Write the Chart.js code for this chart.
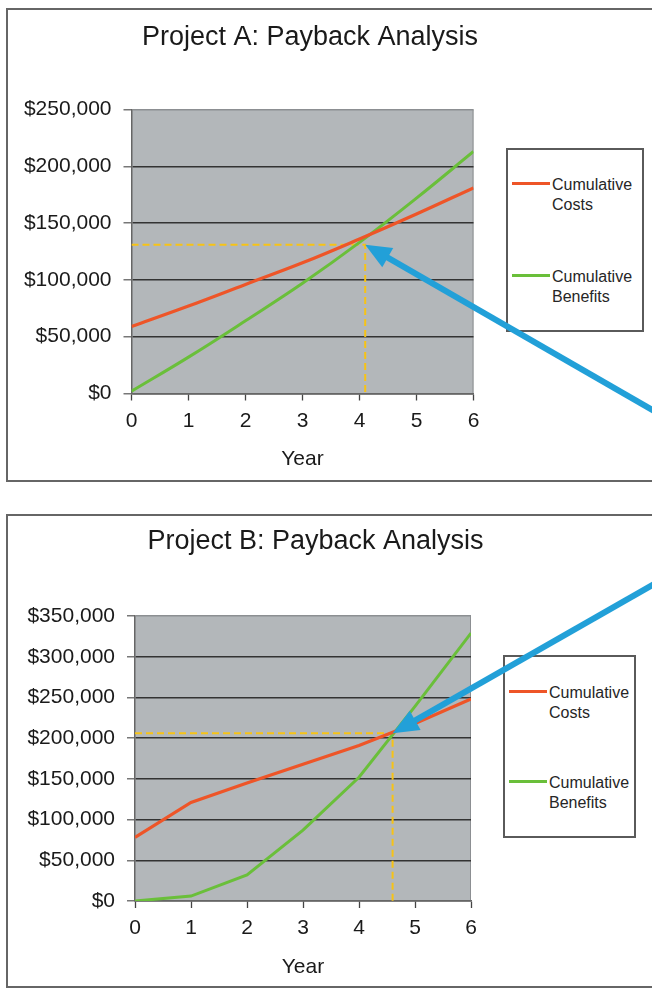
<!DOCTYPE html>
<html>
<head>
<meta charset="utf-8">
<script src="https://cdn.jsdelivr.net/npm/chart.js@4"></script>
<style>
  body { margin: 0; background: #fff; font-family: "Liberation Sans", Arial, sans-serif; overflow: hidden; }
  .frame { position: absolute; left: 6px; width: 700px; border: 2px solid #666; border-right: none; }
  .legend { position: absolute; border: 2px solid #5a5a5a; background: #fff; }
  .item { position: absolute; left: 4px; padding-left: 40px; font-size: 16px; line-height: 19.5px; color: #262626; }
  .swatch { position: absolute; left: 0; top: 6.5px; width: 38px; height: 3px; }
  .panel { position: absolute; left: 0; width: 652px; }
</style>
</head>
<body>
<div class="frame" style="top:8px;height:470px"></div>
<div class="frame" style="top:514px;height:470px"></div>
<div class="legend" id="legendA" style="left:506px;top:148px;width:134px;height:180px"></div>
<div class="legend" id="legendB" style="left:503px;top:655px;width:129px;height:179px"></div>
<div class="panel" style="top:0;height:495px"><canvas id="chartA"></canvas></div>
<div class="panel" style="top:495px;height:494px"><canvas id="chartB"></canvas></div>

<script>
// 数据
var years = [0, 1, 2, 3, 4, 5, 6];
var seriesNames = ["Cumulative Costs", "Cumulative Benefits"];

var titleA = "Project A: Payback Analysis";
var costsA = [59000, 77000, 96000, 115000, 136000, 158000, 181000];
var benefitsA = [2000, 32000, 64000, 97000, 133000, 172000, 213000];
var paybackA = [4.1, 131000];
var yMaxA = 250000;

var titleB = "Project B: Payback Analysis";
var costsB = [78000, 121000, 145000, 168000, 191000, 218000, 248000];
var benefitsB = [0, 6000, 32000, 87000, 152000, 239000, 329000];
var paybackB = [4.6, 206000];
var yMaxB = 350000;

var yStep = 50000;

Chart.defaults.font.family = "'Liberation Sans', Arial, sans-serif";
Chart.defaults.color = "#1a1a1a";

function points(xs, ys) {
    return xs.map(function (x, i) { return {x: x, y: ys[i]}; });
}

// 黄色虚线：回收期的位置
function guide(p) {
    return [{x: 0, y: p[1]}, {x: p[0], y: p[1]}, {x: p[0], y: 0}];
}

// 灰色绘图区背景
var plotBg = {
    id: "plotBg",
    beforeDraw: function (chart) {
        var a = chart.chartArea, ctx = chart.ctx;
        ctx.save();
        ctx.fillStyle = "#b3b7ba";
        ctx.fillRect(a.left, a.top, a.right - a.left, a.bottom - a.top);
        ctx.strokeStyle = "#8c8f92";
        ctx.lineWidth = 1;
        ctx.beginPath();
        ctx.moveTo(a.right - 0.5, a.top);
        ctx.lineTo(a.right - 0.5, a.bottom);
        ctx.stroke();
        ctx.restore();
    }
};

// 蓝色箭头指向交点
var pointerArrow = {
    id: "pointerArrow",
    afterDraw: function (chart, args, opts) {
        var ctx = chart.ctx;
        var tipX = chart.scales.x.getPixelForValue(opts.at[0]);
        var tipY = chart.scales.y.getPixelForValue(opts.at[1]);
        var tx = opts.from[0], ty = opts.from[1];
        var len = Math.hypot(tx - tipX, ty - tipY);
        var ux = (tx - tipX) / len, uy = (ty - tipY) / len;
        var head = 26, half = 11;
        var bx = tipX + ux * head, by = tipY + uy * head;
        ctx.save();
        ctx.strokeStyle = ctx.fillStyle = "#22a0d8";
        ctx.lineWidth = 6;
        ctx.beginPath();
        ctx.moveTo(tx, ty);
        ctx.lineTo(bx - ux * 2, by - uy * 2);
        ctx.stroke();
        ctx.beginPath();
        ctx.moveTo(tipX, tipY);
        ctx.lineTo(bx - uy * half, by + ux * half);
        ctx.lineTo(bx + uy * half, by - ux * half);
        ctx.closePath();
        ctx.fill();
        ctx.restore();
    }
};

function makeChart(id, title, costs, benefits, payback, yMax, geo, tension) {
    var ctx = document.getElementById(id).getContext("2d");
    return new Chart(ctx, {
        type: "line",
        data: {
            datasets: [{
                label: seriesNames[0],
                data: points(years, costs),
                borderColor: "#ee5528",
                backgroundColor: "#ee5528",
                borderWidth: 3.2,
                pointRadius: 0,
                tension: tension,
                fill: false
            }, {
                label: seriesNames[1],
                data: points(years, benefits),
                borderColor: "#6abf3a",
                backgroundColor: "#6abf3a",
                borderWidth: 3,
                pointRadius: 0,
                tension: tension,
                fill: false
            }, {
                label: "",
                guide: true,
                data: guide(payback),
                borderColor: "#f7c316",
                borderWidth: 2,
                borderDash: [7, 4],
                pointRadius: 0,
                tension: 0,
                fill: false
            }]
        },
        options: {
            responsive: true,
            maintainAspectRatio: false,
            animation: false,
            layout: {padding: {left: 0, top: 0, bottom: 0, right: geo.padRight}},
            plugins: {
                legend: {display: false},
                tooltip: {enabled: false},
                title: {
                    display: true,
                    text: title,
                    color: "#1a1a1a",
                    font: {size: 27, weight: "normal", lineHeight: 1.2},
                    padding: {top: geo.titleTop, bottom: geo.titleBottom}
                },
                pointerArrow: {at: payback, from: geo.arrowFrom}
            },
            scales: {
                x: {
                    type: "linear",
                    min: 0,
                    max: 6,
                    ticks: {stepSize: 1, padding: geo.xTickPad, font: {size: 21}, color: "#1a1a1a"},
                    grid: {drawOnChartArea: false, tickLength: 7, tickColor: "#444", tickWidth: 1.3},
                    border: {color: "#666", width: 1.5},
                    title: {display: true, text: "Year", font: {size: 21}, color: "#1a1a1a",
                        padding: {top: 0, bottom: geo.yearPad}},
                    afterFit: function (s) { s.height = geo.xHeight; }
                },
                y: {
                    min: 0,
                    max: yMax,
                    ticks: {
                        stepSize: yStep,
                        padding: 12,
                        font: {size: 21},
                        color: "#1a1a1a",
                        callback: function (v) { return "$" + v.toLocaleString("en-US"); }
                    },
                    grid: {
                        tickLength: 8,
                        tickColor: "#777",
                        lineWidth: 1.5,
                        color: function (c) { return c.tick && c.tick.value === yMax ? "#8c8f92" : "#333"; }
                    },
                    border: {color: "#666", width: 1.5},
                    afterFit: function (s) { s.width = geo.yWidth; }
                },
                pad: {
                    type: "linear",
                    position: "right",
                    display: true,
                    ticks: {display: false},
                    grid: {display: false, drawTicks: false},
                    border: {display: false},
                    afterFit: function (s) { s.width = geo.rightWidth; }
                }
            }
        },
        plugins: [plotBg, pointerArrow]
    });
}

// 图例（放在画布下面，箭头会盖在上面）
function fillLegend(chart, el, tops) {
    chart.data.datasets.filter(function (d) { return !d.guide; }).forEach(function (d, i) {
        var item = document.createElement("div");
        item.className = "item";
        item.style.top = tops[i] + "px";
        item.innerHTML = '<span class="swatch" style="background:' + d.borderColor + '"></span>' +
            d.label.split(" ").join("<br>");
        el.appendChild(item);
    });
}

var chartA = makeChart("chartA", titleA, costsA, benefitsA, paybackA, yMaxA, {
    titleTop: 21.3, titleBottom: 55.8, yWidth: 131.5, xHeight: 101.5,
    xTickPad: 8.5, yearPad: 22.9, padRight: 32, rightWidth: 146.5, arrowFrom: [656, 412]
}, 0.4);

var chartB = makeChart("chartB", titleB, costsB, benefitsB, paybackB, yMaxB, {
    titleTop: 30.8, titleBottom: 57.8, yWidth: 135, xHeight: 88,
    xTickPad: 7.5, yearPad: 8.7, padRight: 21, rightWidth: 160, arrowFrom: [656, 88]
}, 0);

fillLegend(chartA, document.getElementById("legendA"), [25, 117]);
fillLegend(chartB, document.getElementById("legendB"), [26, 116]);
</script>
</body>
</html>
